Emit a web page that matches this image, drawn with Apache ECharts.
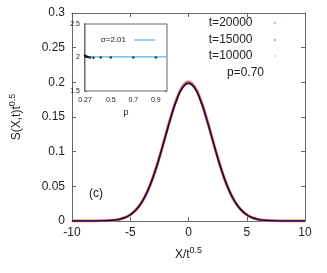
<!DOCTYPE html>
<html><head><meta charset="utf-8">
<script src="https://cdn.jsdelivr.net/npm/echarts@6/dist/echarts.min.js"></script>
<style>html,body{margin:0;padding:0;background:#fff}#c{width:327px;height:273px}</style>
</head><body><div id="c"></div>
<script>
// main panel data
const xs = [-10,-9.5,-9,-8.5,-8,-7.5,-7,-6.5,-6,-5.5,-5,-4.5,-4,-3.5,-3,-2.5,-2,-1.5,-1,-0.5,0,0.5,1,1.5,2,2.5,3,3.5,4,4.5,5,5.5,6,6.5,7,7.5,8,8.5,9,9.5,10];
const t20000 = [0,0,0,0,0.0001,0.0002,0.0005,0.0011,0.0023,0.0047,0.0090,0.0162,0.0274,0.0436,0.0652,0.0916,0.1211,0.1503,0.1758,0.1930,0.1994,0.1930,0.1758,0.1503,0.1211,0.0916,0.0652,0.0436,0.0274,0.0162,0.0090,0.0047,0.0023,0.0011,0.0005,0.0002,0.0001,0,0,0,0];
const t15000 = [0,0,0,0,0.0001,0.0002,0.0005,0.0011,0.0023,0.0047,0.0090,0.0162,0.0274,0.0436,0.0652,0.0917,0.1212,0.1505,0.1760,0.1934,0.1998,0.1934,0.1760,0.1505,0.1212,0.0917,0.0652,0.0436,0.0274,0.0162,0.0090,0.0047,0.0023,0.0011,0.0005,0.0002,0.0001,0,0,0,0];
const t10000 = [0,0,0,0,0.0001,0.0002,0.0005,0.0011,0.0023,0.0047,0.0091,0.0163,0.0275,0.0437,0.0654,0.0919,0.1215,0.1510,0.1766,0.1942,0.2010,0.1942,0.1766,0.1510,0.1215,0.0919,0.0654,0.0437,0.0275,0.0163,0.0091,0.0047,0.0023,0.0011,0.0005,0.0002,0.0001,0,0,0,0];
const fit = [0,0,0,0,0.0001,0.0002,0.0005,0.0011,0.0023,0.0047,0.0090,0.0162,0.0274,0.0436,0.0652,0.0916,0.1210,0.1502,0.1754,0.1924,0.1985,0.1924,0.1754,0.1502,0.1210,0.0916,0.0652,0.0436,0.0274,0.0162,0.0090,0.0047,0.0023,0.0011,0.0005,0.0002,0.0001,0,0,0,0];
const yTicks = [0,0.05,0.1,0.15,0.2,0.25,0.3];
// inset data
const pVals = [0.27,0.275,0.28,0.29,0.30,0.315,0.345,0.41,0.5,0.7,0.9];
const sigmaVals = [2.03,2.02,2.015,2.01,2.005,2.0,1.995,2.0,2.0,2.0,2.0];
const sigmaFit = 2.01;
const pTicks = [0.27,0.5,0.7,0.9];
const seriesNames = ['t=20000','t=15000','t=10000'];
const seriesColors = ['#ee6a9a','#a040d0','#f7a850'];
const legendDotColors = ['#f4a8c0','#c8a8f0','#f8e0a0'];

const pair = (a) => xs.map((x,i)=>[x,a[i]]);
const font = 'Liberation Sans, Arial, sans-serif';
const axisCol = '#666';
const legendTops = [17, 34, 50];

const chart = echarts.init(document.getElementById('c'), null, {renderer:'canvas'});
const mainLegends = seriesNames.map((n,i)=>({
  data:[{name:n,itemStyle:{color:legendDotColors[i]}}],
  orient:'vertical', right:51, top:legendTops[i], align:'right', padding:0,
  icon:'circle', itemWidth:2.5, itemHeight:2.5,
  textStyle:{fontSize:12,color:'#222',fontFamily:font,padding:[0,16,0,0]}
}));
const option = {
  animation:false,
  textStyle:{fontFamily:font},
  grid:[
    {left:66,right:22,top:13,bottom:52,show:false},
    {left:85,width:82,top:24,height:67,show:true,borderColor:axisCol,borderWidth:1,backgroundColor:'#fff',z:10}
  ],
  legend:[
    ...mainLegends,
    {data:['σ=2.01'], right:167, top:31, align:'right', icon:'rect', itemWidth:21, itemHeight:1.2,
     textStyle:{fontSize:8,color:'#222',fontFamily:font,padding:[0,3,0,0]}, z:20}
  ],
  xAxis:[
    {gridIndex:0,type:'value',min:-10,max:10,interval:5,
     axisLine:{show:true,onZero:false,lineStyle:{color:axisCol,width:1}},
     axisTick:{inside:true,length:4,lineStyle:{color:axisCol}},
     axisLabel:{fontSize:12,color:'#222',margin:6,fontFamily:font},
     splitLine:{show:false},
     name:'X/t{sup|0.5}',nameLocation:'middle',nameGap:25,
     nameTextStyle:{fontSize:12,color:'#222',fontFamily:font,rich:{sup:{fontSize:9,padding:[0,0,8,0],color:'#222',fontFamily:font}}}},
    {gridIndex:0,type:'value',min:-10,max:10,interval:5,position:'top',
     axisLine:{show:true,onZero:false,lineStyle:{color:axisCol}},
     axisTick:{inside:true,length:4,lineStyle:{color:axisCol}},
     axisLabel:{show:false},splitLine:{show:false}},
    {gridIndex:1,type:'value',min:0.27,max:1.0,
     axisLine:{show:false},
     axisTick:{show:true,inside:true,length:2,customValues:pTicks,lineStyle:{color:axisCol}},
     axisLabel:{fontSize:7,color:'#222',margin:6,customValues:pTicks,fontFamily:font,formatter:v=>String(+v.toFixed(2))},
     splitLine:{show:false},
     name:'p',nameLocation:'middle',nameGap:17,nameTextStyle:{fontSize:9,color:'#222',fontFamily:font}},
    {gridIndex:1,type:'value',min:0.27,max:1.0,position:'top',
     axisLine:{show:false},
     axisTick:{show:true,inside:true,length:2,customValues:pTicks,lineStyle:{color:axisCol}},
     axisLabel:{show:false},splitLine:{show:false}}
  ],
  yAxis:[
    {gridIndex:0,type:'value',min:0,max:0.3,interval:0.05,
     axisLine:{show:true,onZero:false,lineStyle:{color:axisCol}},
     axisTick:{inside:true,length:4,lineStyle:{color:axisCol}},
     axisLabel:{fontSize:12,color:'#222',margin:7,fontFamily:font,customValues:yTicks,formatter:v=>String(+v.toFixed(2))},
     splitLine:{show:false},
     name:'S(X,t)t{sup|0.5}',nameLocation:'middle',nameRotate:90,nameGap:47,
     nameTextStyle:{fontSize:12,color:'#222',fontFamily:font,rich:{sup:{fontSize:9,padding:[0,0,8,0],color:'#222',fontFamily:font}}}},
    {gridIndex:0,type:'value',min:0,max:0.3,interval:0.05,position:'right',
     axisLine:{show:true,onZero:false,lineStyle:{color:axisCol}},
     axisTick:{inside:true,length:4,lineStyle:{color:axisCol}},
     axisLabel:{show:false},splitLine:{show:false}},
    {gridIndex:1,type:'value',min:1.5,max:2.5,interval:0.5,
     axisLine:{show:true,onZero:false,lineStyle:{color:'#777',width:2}},
     axisTick:{inside:true,length:2,lineStyle:{color:axisCol}},
     axisLabel:{fontSize:7,color:'#222',margin:5,fontFamily:font},
     splitLine:{show:false}},
    {gridIndex:1,type:'value',min:1.5,max:2.5,interval:0.5,position:'right',
     axisLine:{show:false},
     axisTick:{inside:true,length:2,lineStyle:{color:axisCol}},
     axisLabel:{show:false},splitLine:{show:false}}
  ],
  series:[
    {name:seriesNames[2],type:'line',xAxisIndex:0,yAxisIndex:0,data:pair(t10000),smooth:true,showSymbol:false,
     itemStyle:{color:seriesColors[2]},lineStyle:{color:seriesColors[2],width:3},z:2},
    {name:seriesNames[0],type:'line',xAxisIndex:0,yAxisIndex:0,data:pair(t20000),smooth:true,showSymbol:false,
     itemStyle:{color:seriesColors[0]},lineStyle:{color:seriesColors[0],width:2.4},z:3},
    {name:seriesNames[1],type:'line',xAxisIndex:0,yAxisIndex:0,data:pair(t15000),smooth:true,showSymbol:false,
     itemStyle:{color:seriesColors[1]},lineStyle:{color:seriesColors[1],width:2},z:4},
    {name:'fit',type:'line',xAxisIndex:0,yAxisIndex:0,data:pair(fit),smooth:true,showSymbol:false,
     lineStyle:{color:'#111',width:1.4},z:5},
    {name:'σ=2.01',type:'line',xAxisIndex:2,yAxisIndex:2,data:[[0.27,sigmaFit],[1.0,sigmaFit]],showSymbol:false,
     itemStyle:{color:'#56b4e9'},lineStyle:{color:'#56b4e9',width:1.2},z:11},
    {name:'sigma',type:'scatter',xAxisIndex:2,yAxisIndex:2,data:pVals.map((p,i)=>[p,sigmaVals[i]]),
     symbolSize:2.5,itemStyle:{color:'#111'},z:12}
  ],
  graphic:[
    {type:'text',left:227,top:67,style:{text:'p=0.70',fontSize:12,fill:'#222',fontFamily:font}},
    {type:'text',left:89,top:188,style:{text:'(c)',fontSize:12,fill:'#222',fontFamily:font}}
  ]
};
chart.setOption(option);
</script></body></html>
